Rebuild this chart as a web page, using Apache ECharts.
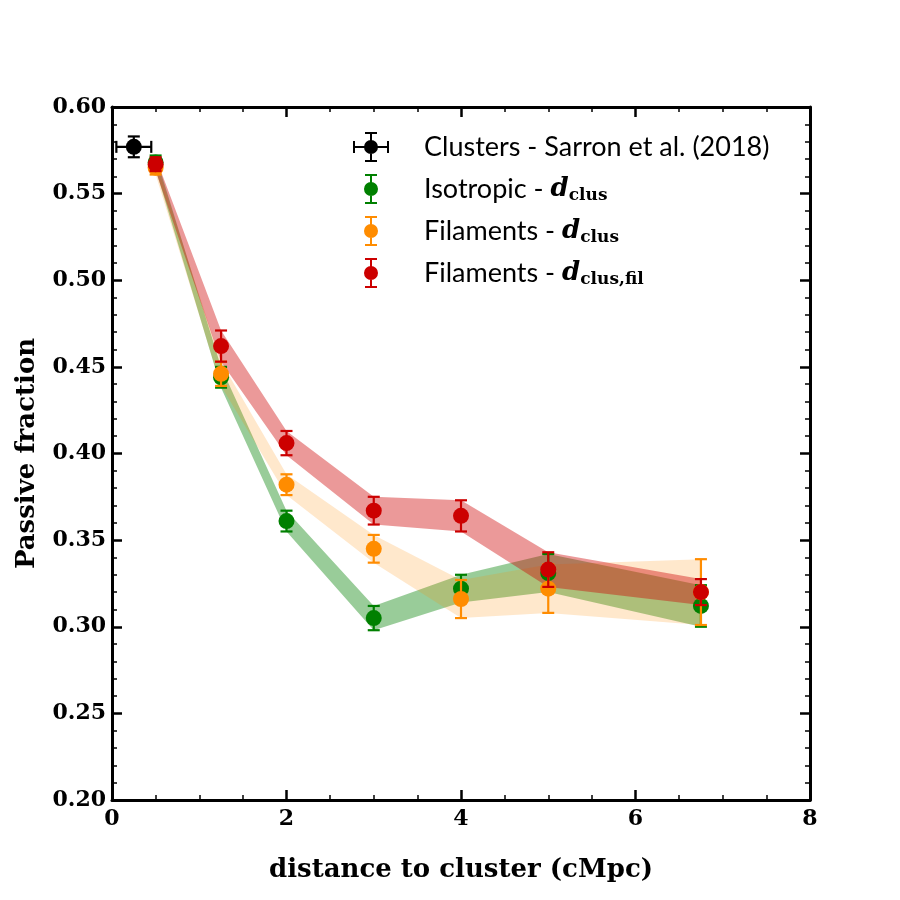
<!DOCTYPE html>
<html>
<head>
<meta charset="utf-8">
<script src="https://cdn.jsdelivr.net/npm/echarts@6/dist/echarts.min.js"></script>
<style>
    html, body { margin: 0; padding: 0; background: #fff; }
    #main-chart { width: 900px; height: 900px; }
</style>
</head>
<body>
<div id="main-chart"></div>
<script>
// distances (cMpc)
var distances = [0.5, 1.25, 2, 3, 4, 5, 6.75];

// Sarron et al. (2018) cluster point
var clusterX = [0.25], clusterY = [0.577], clusterYErr = [0.006], clusterXErr = [0.2];

// isotropic - d_clus
var isoValues = [0.568, 0.444, 0.361, 0.305, 0.322, 0.331, 0.312];
var isoErrors = [0.004, 0.006, 0.006, 0.007, 0.008, 0.011, 0.012];

// filaments - d_clus
var filValues = [0.565, 0.446, 0.382, 0.345, 0.316, 0.322, 0.320];
var filErrors = [0.004, 0.007, 0.006, 0.008, 0.011, 0.014, 0.019];

// filaments - d_clus,fil
var filFilValues = [0.567, 0.462, 0.406, 0.367, 0.364, 0.333, 0.320];
var filFilErrors = [0.004, 0.009, 0.007, 0.008, 0.009, 0.010, 0.0075];

var GREEN = '#008000', ORANGE = '#ff8c00', RED = '#cc0000', BLACK = '#000';

var rect = function (x, y, w, h) {
    return 'M' + x + ',' + y + 'h' + w + 'v' + h + 'h' + (-w) + 'Z';
};
var circle = function (cx, cy, r) {
    return 'M' + (cx + r) + ',' + cy + 'A' + r + ',' + r + ',0,1,1,' + (cx - r) + ',' + cy +
        'A' + r + ',' + r + ',0,1,1,' + (cx + r) + ',' + cy + 'Z';
};
// legend icons: errorbar with dot (tiny corner dots keep every icon 36 wide)
var hvIcon = 'path://' + rect(12, 0, 12, 2) + rect(17, 0, 2, 30) + rect(12, 28, 12, 2) +
    rect(0, 14, 36, 2) + rect(0, 9, 2, 12) + rect(34, 9, 2, 12) + circle(18, 15, 7);
var vIcon = 'path://' + rect(12, 0, 12, 2) + rect(17, 0, 2, 30) + rect(12, 28, 12, 2) + circle(18, 15, 7) +
    rect(0, 15, 0.01, 0.01) + rect(35.99, 15, 0.01, 0.01);

var zip = function (xs, ys, es) {
    var out = [];
    for (var i = 0; i < xs.length; i++) out.push([xs[i], ys[i], es[i]]);
    return out;
};

var bandSeries = function (name, values, errors, color, opacity, z) {
    return {
        name: name,
        type: 'custom',
        z: z,
        silent: true,
        data: zip(distances, values, errors),
        encode: { x: 0, y: 1 },
        renderItem: function (params, api) {
            if (params.dataIndex !== 0) return null;
            var upper = [], lower = [];
            for (var i = 0; i < distances.length; i++) {
                upper.push(api.coord([distances[i], values[i] + errors[i]]));
                lower.unshift(api.coord([distances[i], values[i] - errors[i]]));
            }
            return {
                type: 'polygon',
                shape: { points: upper.concat(lower) },
                style: { fill: color, opacity: opacity }
            };
        }
    };
};

var errorSeries = function (name, data, color, z, withX) {
    return {
        name: name,
        type: 'custom',
        z: z,
        silent: true,
        data: data,
        encode: { x: 0, y: 1 },
        renderItem: function (params, api) {
            var x = api.value(0), y = api.value(1), e = api.value(2);
            var top = api.coord([x, y + e]), bot = api.coord([x, y - e]);
            var style = { stroke: color, lineWidth: 2.2 };
            var children = [
                { type: 'line', shape: { x1: top[0], y1: top[1], x2: bot[0], y2: bot[1] }, style: style },
                { type: 'line', shape: { x1: top[0] - 6, y1: top[1], x2: top[0] + 6, y2: top[1] }, style: style },
                { type: 'line', shape: { x1: bot[0] - 6, y1: bot[1], x2: bot[0] + 6, y2: bot[1] }, style: style }
            ];
            if (withX) {
                var xe = api.value(3);
                var l = api.coord([x - xe, y]), r = api.coord([x + xe, y]);
                children.push({ type: 'line', shape: { x1: l[0], y1: l[1], x2: r[0], y2: r[1] }, style: style });
                children.push({ type: 'line', shape: { x1: l[0], y1: l[1] - 6, x2: l[0], y2: l[1] + 6 }, style: style });
                children.push({ type: 'line', shape: { x1: r[0], y1: r[1] - 6, x2: r[0], y2: r[1] + 6 }, style: style });
            }
            return { type: 'group', children: children };
        }
    };
};

var pointSeries = function (name, xs, ys, color, z) {
    var pts = [];
    for (var i = 0; i < xs.length; i++) pts.push([xs[i], ys[i]]);
    return {
        name: name,
        type: 'scatter',
        z: z,
        symbol: 'circle',
        symbolSize: 16,
        itemStyle: { color: color, opacity: 1 },
        data: pts
    };
};

var axisCommon = {
    axisLine: { show: true, onZero: false, lineStyle: { color: BLACK, width: 3 } },
    axisTick: { show: true, inside: true, length: 10, lineStyle: { color: BLACK, width: 2.5 } },
    minorTick: { show: true, length: 5, lineStyle: { color: BLACK, width: 1.5 } },
    splitLine: { show: false }
};

var labelStyle = {
    fontFamily: 'DejaVu Serif',
    fontWeight: 'bold',
    fontSize: 22,
    color: BLACK
};

var titleStyle = { fontFamily: 'DejaVu Serif', fontWeight: 'bold', fontSize: 26, color: BLACK };

var mathRich = {
    t: { fontFamily: 'Lato', fontSize: 27, color: BLACK, padding: [0, 0, 0, 30], lineHeight: 30 },
    d: { fontFamily: 'DejaVu Serif', fontStyle: 'italic', fontWeight: 'bold', fontSize: 26, color: BLACK, lineHeight: 30 },
    s: { fontFamily: 'DejaVu Serif', fontWeight: 'bold', fontSize: 17, color: BLACK, lineHeight: 17, verticalAlign: 'bottom' }
};

var legendLabels = {
    'Clusters': '{t|Clusters - Sarron et al. (2018)}',
    'Isotropic': '{t|Isotropic - }{d|d}{s|clus}',
    'Filaments': '{t|Filaments - }{d|d}{s|clus}',
    'FilamentsFil': '{t|Filaments - }{d|d}{s|clus,fil}'
};

var option = {
    animation: false,
    backgroundColor: '#fff',
    grid: { left: 112, right: 90, top: 107, bottom: 100, containLabel: false },
    legend: {
        orient: 'vertical',
        left: 348,
        top: 127,
        itemWidth: 36,
        itemHeight: 30,
        itemGap: 12,
        selectedMode: false,
        data: [
            { name: 'Clusters', icon: hvIcon },
            { name: 'Isotropic', icon: vIcon },
            { name: 'Filaments', icon: vIcon },
            { name: 'FilamentsFil', icon: vIcon }
        ],
        formatter: function (name) { return legendLabels[name]; },
        textStyle: { rich: mathRich }
    },
    xAxis: [Object.assign({}, axisCommon, {
        type: 'value',
        min: 0,
        max: 8,
        interval: 2,
        minorTick: Object.assign({}, axisCommon.minorTick, { splitNumber: 4 }),
        position: 'bottom',
        axisLabel: Object.assign({}, labelStyle, { margin: 8, formatter: function (v) { return String(v); } }),
        name: 'distance to cluster (cMpc)',
        nameLocation: 'middle',
        nameGap: 57,
        nameTextStyle: titleStyle
    }), Object.assign({}, axisCommon, {
        type: 'value',
        min: 0,
        max: 8,
        interval: 2,
        minorTick: Object.assign({}, axisCommon.minorTick, { splitNumber: 4 }),
        position: 'top',
        axisLabel: { show: false }
    })],
    yAxis: [Object.assign({}, axisCommon, {
        type: 'value',
        min: 0.2,
        max: 0.6,
        interval: 0.05,
        minorTick: Object.assign({}, axisCommon.minorTick, { splitNumber: 5 }),
        position: 'left',
        axisLabel: Object.assign({}, labelStyle, { margin: 6, formatter: function (v) { return v.toFixed(2); } }),
        name: 'Passive fraction',
        nameLocation: 'middle',
        nameGap: 72,
        nameTextStyle: titleStyle
    }), Object.assign({}, axisCommon, {
        type: 'value',
        min: 0.2,
        max: 0.6,
        interval: 0.05,
        minorTick: Object.assign({}, axisCommon.minorTick, { splitNumber: 5 }),
        position: 'right',
        axisLabel: { show: false }
    })],
    series: [
        bandSeries('isoBand', isoValues, isoErrors, GREEN, 0.4, 1),
        bandSeries('filBand', filValues, filErrors, ORANGE, 0.2, 2),
        bandSeries('filFilBand', filFilValues, filFilErrors, RED, 0.4, 3),
        errorSeries('clusterErr', [[clusterX[0], clusterY[0], clusterYErr[0], clusterXErr[0]]], BLACK, 10, true),
        pointSeries('Clusters', clusterX, clusterY, BLACK, 11),
        errorSeries('isoErr', zip(distances, isoValues, isoErrors), GREEN, 12, false),
        pointSeries('Isotropic', distances, isoValues, GREEN, 13),
        errorSeries('filErr', zip(distances, filValues, filErrors), ORANGE, 14, false),
        pointSeries('Filaments', distances, filValues, ORANGE, 15),
        errorSeries('filFilErr', zip(distances, filFilValues, filFilErrors), RED, 16, false),
        pointSeries('FilamentsFil', distances, filFilValues, RED, 17)
    ]
};

var chart = echarts.init(document.getElementById('main-chart'), null, { renderer: 'canvas' });
chart.setOption(option);
</script>
</body>
</html>
